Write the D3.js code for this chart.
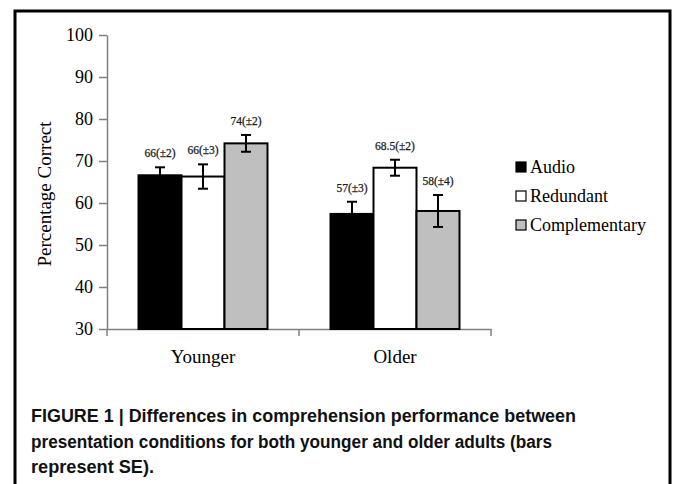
<!DOCTYPE html>
<html><head><meta charset="utf-8">
<script src="https://cdn.jsdelivr.net/npm/d3@7"></script>
<style>body{margin:0;background:#fff}svg{display:block}</style>
</head><body>
<svg id="c" width="673" height="484"></svg>
<script>
const groups = ["Younger", "Older"];
const conditions = ["Audio", "Redundant", "Complementary"];
const colors = ["#000000", "#ffffff", "#bfbfbf"];
const youngerMeans = [66.6, 66.3, 74.2];
const youngerSE = [1.9, 2.9, 2.0];
const youngerLabels = ["66(±2)", "66(±3)", "74(±2)"];
const olderMeans = [57.4, 68.4, 58.1];
const olderSE = [2.9, 1.9, 3.8];
const olderLabels = ["57(±3)", "68.5(±2)", "58(±4)"];
const yTicks = [30, 40, 50, 60, 70, 80, 90, 100];
const caption = ["FIGURE 1 | Differences in comprehension performance between",
  "presentation conditions for both younger and older adults (bars",
  "represent SE)."];
const captionWidths = [545, 521, 123];

const data = [
  {group: groups[0], means: youngerMeans, se: youngerSE, labels: youngerLabels},
  {group: groups[1], means: olderMeans, se: olderSE, labels: olderLabels}
];

const svg = d3.select("#c");
// frame
svg.append("path").attr("d", "M15,490 V11 H670 V490")
  .attr("fill", "none").attr("stroke", "#000").attr("stroke-width", 3);

const x0 = d3.scaleBand().domain(groups).range([107, 491]).paddingInner(0).paddingOuter(0);
const x1 = d3.scaleBand().domain(conditions).range([0, 129]);
const groupOffset = (x0.bandwidth() - 129) / 2;
const y = d3.scaleLinear().domain([30, 100]).range([329, 35]);

const serif = "'Liberation Serif', 'Times New Roman', serif";

// y axis
const yAxis = svg.append("g").attr("transform", "translate(107,0)")
  .call(d3.axisLeft(y).tickValues(yTicks).tickSize(8).tickSizeOuter(0).tickPadding(6));
yAxis.select(".domain").attr("stroke", "#808080").attr("stroke-width", 1.5);
yAxis.selectAll(".tick line").attr("stroke", "#808080").attr("stroke-width", 1.5);
yAxis.selectAll(".tick text").attr("font-family", serif).attr("font-size", 18).attr("fill", "#000");

// x axis
const xAxis = svg.append("g").attr("transform", "translate(0,329)")
  .call(d3.axisBottom(x0).tickSize(0).tickSizeOuter(0).tickPadding(21));
xAxis.select(".domain").attr("stroke", "#808080").attr("stroke-width", 1.5);
xAxis.selectAll(".tick text").attr("font-family", serif).attr("font-size", 19).attr("fill", "#000");
// x boundary ticks
const bounds = [x0.range()[0], x0(groups[1]), x0.range()[1]];
svg.append("g").selectAll("line").data(bounds).join("line")
  .attr("x1", d => d).attr("x2", d => d).attr("y1", 329).attr("y2", 336)
  .attr("stroke", "#808080").attr("stroke-width", 1.5);

// bars
const g = svg.append("g");
data.forEach(d => {
  const gx = x0(d.group) + groupOffset;
  conditions.forEach((c, i) => {
    const bx = gx + x1(c);
    const bw = x1.bandwidth();
    g.append("rect").attr("x", bx).attr("y", y(d.means[i]))
      .attr("width", bw).attr("height", y(30) - y(d.means[i]))
      .attr("fill", colors[i]).attr("stroke", "#000").attr("stroke-width", 2);
  });
});
// error bars and labels on top
data.forEach(d => {
  const gx = x0(d.group) + groupOffset;
  conditions.forEach((c, i) => {
    const cx = gx + x1(c) + x1.bandwidth() / 2;
    const top = y(d.means[i] + d.se[i]);
    const bot = y(d.means[i] - d.se[i]);
    const eg = g.append("g").attr("stroke", "#000").attr("stroke-width", 2);
    eg.append("line").attr("x1", cx).attr("x2", cx).attr("y1", top).attr("y2", bot);
    eg.append("line").attr("x1", cx - 5).attr("x2", cx + 5).attr("y1", top).attr("y2", top);
    eg.append("line").attr("x1", cx - 5).attr("x2", cx + 5).attr("y1", bot).attr("y2", bot);
    g.append("text").attr("x", cx).attr("y", top - 10).attr("text-anchor", "middle")
      .attr("font-family", serif).attr("font-size", 11.5)
      .attr("fill", "#1a1a1a").attr("stroke", "#1a1a1a").attr("stroke-width", 0.25)
      .text(d.labels[i]);
  });
});

// y title
svg.append("text").attr("transform", "translate(51,194) rotate(-90)")
  .attr("text-anchor", "middle").attr("font-family", serif).attr("font-size", 19)
  .text("Percentage Correct");

// legend
const leg = svg.append("g");
conditions.forEach((c, i) => {
  const ly = 173 + i * 29;
  leg.append("rect").attr("x", 516).attr("y", ly - 11).attr("width", 10).attr("height", 10)
    .attr("fill", colors[i]).attr("stroke", "#000").attr("stroke-width", 1.2);
  leg.append("text").attr("x", 530).attr("y", ly).attr("font-family", serif)
    .attr("font-size", 18).text(c);
});

// caption
caption.forEach((t, i) => {
  svg.append("text").attr("x", 31).attr("y", 422 + i * 25.5)
    .attr("font-family", "'Liberation Sans', Arial, sans-serif").attr("font-weight", "bold")
    .attr("font-size", 18).attr("fill", "#111")
    .attr("textLength", captionWidths[i]).attr("lengthAdjust", "spacingAndGlyphs")
    .text(t);
});
</script>
</body></html>
